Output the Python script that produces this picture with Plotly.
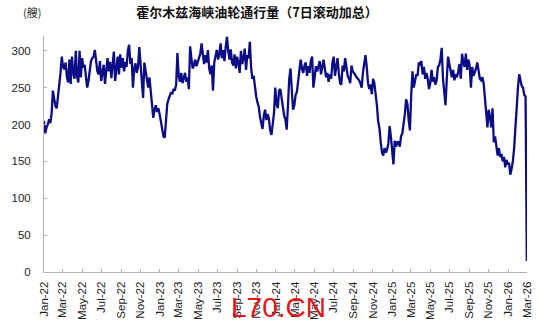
import pandas as pd
import plotly.graph_objects as go

# 7-day rolling total of tankers transiting the Strait of Hormuz, sampled every 4 days
START = "2022-01-01"
STEP = "4D"
tanker_7d = [
    205, 188, 196, 200, 207, 202, 215, 246, 235, 225,
    222, 238, 248, 270, 292, 278, 275, 284, 265, 257,
    288, 255, 292, 270, 262, 300, 265, 257, 300, 264,
    290, 277, 281, 262, 250, 259, 277, 286, 290, 292,
    301, 286, 272, 268, 286, 259, 270, 281, 255, 275,
    290, 272, 285, 263, 280, 299, 259, 281, 292, 268,
    295, 277, 290, 272, 285, 278, 300, 308, 282, 290,
    250, 276, 283, 270, 278, 305, 282, 250, 236, 284,
    272, 258, 250, 264, 248, 226, 209, 220, 226, 217,
    222, 214, 204, 192, 184, 182, 204, 228, 234, 238,
    244, 241, 248, 246, 254, 297, 266, 258, 270, 256,
    262, 270, 258, 264, 248, 306, 290, 276, 280, 288,
    279, 286, 293, 296, 310, 294, 282, 294, 284, 301,
    276, 268, 280, 246, 284, 293, 301, 288, 296, 310,
    290, 301, 286, 305, 319, 300, 288, 302, 284, 280,
    295, 276, 292, 284, 270, 300, 282, 290, 303, 274,
    294, 290, 312, 277, 262, 266, 248, 238, 230, 224,
    210, 200, 194, 212, 220, 206, 214, 208, 192, 186,
    204, 215, 250, 228, 222, 246, 248, 234, 222, 212,
    207, 193, 226, 262, 276, 244, 220, 226, 240, 244,
    262, 280, 288, 276, 270, 280, 284, 266, 279, 270,
    286, 292, 250, 264, 279, 272, 280, 286, 268, 282,
    288, 276, 264, 270, 258, 268, 262, 284, 292, 266,
    280, 290, 270, 256, 254, 280, 272, 290, 278, 266,
    262, 256, 280, 272, 270, 266, 264, 262, 260, 256,
    250, 270, 286, 294, 278, 256, 248, 254, 241, 262,
    256, 244, 226, 204, 195, 176, 162, 158, 168, 162,
    166, 174, 198, 184, 160, 146, 178, 170, 176, 176,
    170, 184, 188, 200, 214, 234, 228, 206, 192, 240,
    272, 250, 262, 268, 266, 284, 282, 286, 268, 278,
    262, 270, 262, 248, 256, 274, 258, 264, 254, 260,
    278, 280, 288, 304, 262, 244, 226, 262, 292, 282,
    272, 264, 274, 260, 268, 264, 272, 282, 262, 296,
    284, 278, 296, 274, 288, 280, 250, 278, 266, 270,
    276, 284, 270, 262, 260, 264, 256, 240, 216, 196,
    220, 210, 196, 222, 176, 184, 172, 158, 168, 156,
    160, 150, 156, 142, 152, 146, 148, 132, 140, 150,
    168, 198, 216, 250, 268, 258, 252, 250, 240, 238,
]
tail_dates = ["2026-03-01"]
tail_values = [15]

y_ticks = [0, 50, 100, 150, 200, 250, 300]
title_text = "霍尔木兹海峡油轮通行量（7日滚动加总）"
unit_text = "(艘)"
mark_text = "L70.CN"

dates = list(pd.date_range(START, periods=len(tanker_7d), freq=STEP)) + list(pd.to_datetime(tail_dates))
values = tanker_7d + tail_values

axis_grey = "#b4b4b4"
label_font = dict(family="Liberation Sans, Arial, sans-serif", size=11.5, color="#1e1e1e")

fig = go.Figure(
    go.Scatter(
        x=dates, y=values, mode="lines",
        line=dict(color="#0c0c86", width=2.3),
        hoverinfo="skip",
    )
)

fig.update_layout(
    width=550, height=332,
    margin=dict(l=36, r=23, t=36, b=56),
    paper_bgcolor="white", plot_bgcolor="white",
    showlegend=False,
    title=dict(
        text="<b>" + title_text + "</b>",
        x=257 / 550, xanchor="center",
        y=1 - 12 / 332, yanchor="middle",
        font=dict(family="Noto Sans CJK SC", size=13, color="#111111"),
    ),
)

fig.update_xaxes(
    range=["2022-01-01", "2026-03-01 12:00"],
    tick0="2022-01-01", dtick="M2", tickformat="%b-%y",
    tickangle=-90,
    ticks="inside", ticklen=3, tickcolor=axis_grey,
    showline=True, linecolor=axis_grey, linewidth=1,
    showgrid=False, zeroline=False,
    tickfont=label_font,
    ticklabelstandoff=4,
)
fig.update_yaxes(
    range=[0, 320], tickvals=y_ticks,
    ticks="inside", ticklen=3, tickcolor=axis_grey,
    showline=True, linecolor=axis_grey, linewidth=1,
    showgrid=False, zeroline=False,
    tickfont=label_font,
    ticklabelstandoff=10,
)

fig.add_annotation(
    text=unit_text, xref="paper", yref="paper",
    x=(24 - 36) / 491, y=(276 - 12) / 240,
    xanchor="center", yanchor="middle", showarrow=False,
    font=dict(family="Noto Sans CJK SC", size=11, color="#333333"),
)
fig.add_annotation(
    text=mark_text, xref="paper", yref="paper",
    x=(274 - 36) / 491, y=(276 - 312) / 240,
    xanchor="center", yanchor="middle", showarrow=False,
    font=dict(family="Liberation Sans, Arial, sans-serif", size=28, color="#e3151a"),
)

fig.write_html("out.html")
